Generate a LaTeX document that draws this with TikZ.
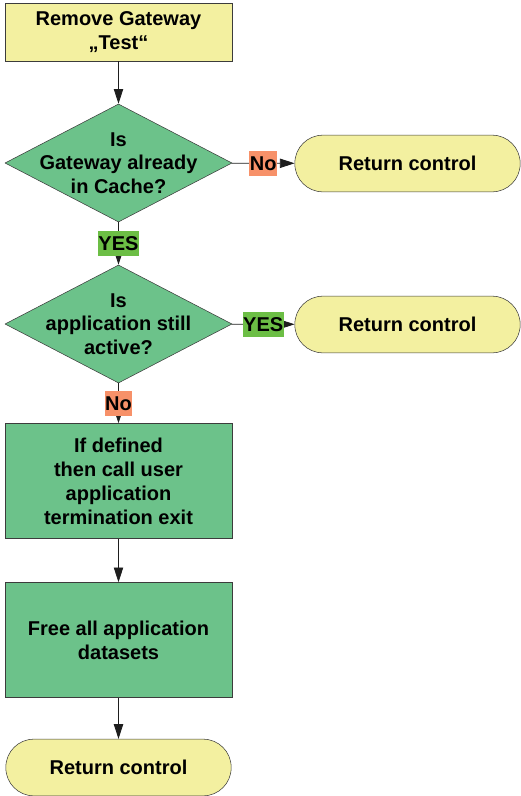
\documentclass[tikz,border=0pt]{standalone}
\usepackage{fontspec}
\setmainfont{Liberation Sans}
\usepackage{xcolor}
\usepackage{tikz}
\usetikzlibrary{arrows,arrows.meta,shapes.geometric}

\definecolor{boxyellow}{RGB}{243,240,160}
\definecolor{boxgreen}{RGB}{108,194,138}
\definecolor{yesgreen}{RGB}{108,190,69}
\definecolor{noorange}{RGB}{247,145,105}
\definecolor{edgegray}{RGB}{60,60,60}
\definecolor{linegray}{RGB}{30,30,30}

\begin{document}
\begin{tikzpicture}[x=0.75pt,y=-0.75pt,font=\fontsize{15}{17.5}\selectfont\bfseries]
    \tikzstyle{start}=[draw=edgegray,fill=boxyellow,minimum width=170.25pt,minimum height=43.5pt,align=center,inner sep=0pt]
    \tikzstyle{decision}=[draw=edgegray,fill=boxgreen,diamond,aspect=1.92,minimum width=170.25pt,minimum height=88.5pt,inner sep=0pt]
    \tikzstyle{process}=[draw=edgegray,fill=boxgreen,minimum width=170.25pt,minimum height=86.25pt,align=center,inner sep=0pt,font=\fontsize{15}{18}\selectfont\bfseries]
    \tikzstyle{terminal}=[draw=edgegray,fill=boxyellow,rounded corners=21pt,minimum width=169pt,minimum height=42.5pt,inner sep=0pt]
    \tikzstyle{yes}=[fill=yesgreen,inner xsep=0.5pt,inner ysep=0pt,minimum height=18.75pt]
    \tikzstyle{no}=[fill=noorange,inner xsep=0.5pt,inner ysep=0pt,minimum height=18.75pt]
    \tikzstyle{flow}=[draw=linegray,line width=0.6pt,-{Triangle[length=11pt,width=7pt]}]
\useasboundingbox (0,0) rectangle (521,796);
\node[start] (remove) at (118.5,32) {Remove Gateway\\„Test“};
\node[decision,label={[align=center,font=\fontsize{15}{17.6}\selectfont\bfseries]center:Is\\Gateway already\\in Cache?}] (cache) at (118.5,163) {};
\node[terminal] (ret1) at (407.5,163.5) {Return control};
\node[decision,label={[align=center,font=\fontsize{15}{17.6}\selectfont\bfseries]center:Is\\application still\\active?}] (active) at (118.5,324) {};
\node[terminal] (ret2) at (407.5,324.5) {Return control};
\node[process] (exit) at (118.5,481) {If defined\\then call user\\application\\termination exit};
\node[process] (free) at (118.5,640) {Free all application\\datasets};
\node[terminal] (ret3) at (118.5,767.5) {Return control};
\draw[flow] (remove) -- (cache);
\draw[flow] (cache) -- node[no] {No} (ret1);
\draw[flow] (cache) -- node[yes] {YES} (active);
\draw[flow] (active) -- node[yes] {YES} (ret2);
\draw[flow] (active) -- node[no] {No} (exit);
\draw[flow] (exit) -- (free);
\draw[flow] (free) -- (ret3);
\end{tikzpicture}
\end{document}
